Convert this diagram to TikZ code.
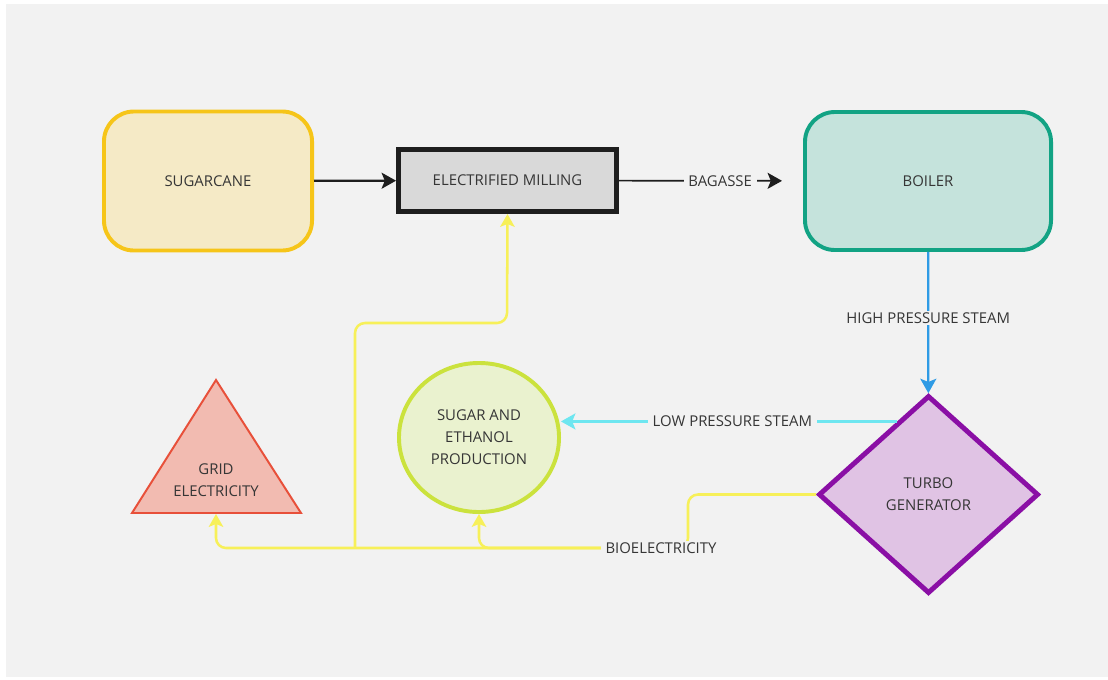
\documentclass[tikz,border=0pt]{standalone}
\usepackage{fontspec}
\setmainfont{Open Sans}
\usetikzlibrary{shapes.geometric,arrows.meta,calc}

\definecolor{bggray}{HTML}{F2F2F2}
\definecolor{txtgray}{HTML}{363636}
\definecolor{canefill}{HTML}{F5EAC6}
\definecolor{canedraw}{HTML}{F6C519}
\definecolor{millfill}{HTML}{D9D9D9}
\definecolor{milldraw}{HTML}{1E1E1E}
\definecolor{boilerfill}{HTML}{C5E3DC}
\definecolor{boilerdraw}{HTML}{12A384}
\definecolor{gridfill}{HTML}{F2BBB1}
\definecolor{griddraw}{HTML}{E8503A}
\definecolor{sugarfill}{HTML}{EAF2CF}
\definecolor{sugardraw}{HTML}{CBE23D}
\definecolor{turbofill}{HTML}{E0C3E4}
\definecolor{turbodraw}{HTML}{8A0FA5}
\definecolor{hpblue}{HTML}{2F9BE5}
\definecolor{lpcyan}{HTML}{6EE6F0}
\definecolor{elecyellow}{HTML}{F7F059}

\begin{document}
\begin{tikzpicture}[x=0.025cm, y=-0.025cm,
                    every node/.style={font=\fontsize{10.6}{15.6}\selectfont, text=txtgray, align=center},
                    box/.style={draw, inner sep=0pt},
                    flowlabel/.style={fill=bggray, inner xsep=3.5pt, inner ysep=1pt},
                    flow/.style={line width=1.6pt, -{Stealth[length=0.36cm, width=0.4cm, inset=0.08cm]}},
                    elec/.style={flow, draw=elecyellow, line width=1.8pt, rounded corners=0.25cm,
                                 -{Stealth[length=0.32cm, width=0.36cm, inset=0.07cm]}}]

                    % page
                    \fill[white] (0,0) rectangle (1108,679);
                    \fill[bggray] (6,4) rectangle (1108,677);
                    \useasboundingbox (0,0) rectangle (1108,679);

                    % top row
                    \node[box, rounded corners=0.75cm, draw=canedraw, fill=canefill, line width=2.8pt,
                          minimum width=5.2cm, minimum height=3.475cm] (cane) at (208,181) {SUGARCANE};
                    \node[box, draw=milldraw, fill=millfill, line width=3.5pt,
                          minimum width=5.45cm, minimum height=1.55cm] (mill) at (507.5,180.5) {ELECTRIFIED MILLING};
                    \node[box, rounded corners=0.75cm, draw=boilerdraw, fill=boilerfill, line width=2.8pt,
                          minimum width=6.15cm, minimum height=3.45cm] (boiler) at (928,181) {BOILER};

                    % bottom row
                    \draw[draw=griddraw, fill=gridfill, line width=1.4pt] (216,380) -- (301,513) -- (132,513) -- cycle;
                    \node (grid) at (216,480) {GRID\\ELECTRICITY};
                    \coordinate (gridbase) at (216,514);
                    \node[box, ellipse, draw=sugardraw, fill=sugarfill, line width=2.8pt,
                          minimum width=4cm, minimum height=3.725cm] (sugar) at (479,437.5) {SUGAR AND\\ETHANOL\\PRODUCTION};
                    \node[box, diamond, draw=turbodraw, fill=turbofill, line width=3.5pt,
                          minimum width=5.5cm, minimum height=4.95cm] (turbo) at (928.5,494.5) {TURBO\\GENERATOR};

                    % steam and cane
                    \draw[flow, draw=milldraw] (cane) -- (mill);
                    \draw[flow, draw=milldraw, line width=1.2pt, shorten >=0.525cm] (mill) -- (boiler);
                    \node[flowlabel] (bagasse) at ($(mill.east)!0.55!(boiler.west)$) {BAGASSE};

                    \draw[flow, draw=hpblue] (boiler) -- (turbo);
                    \node[flowlabel] (hp) at ($(boiler.south)!0.47!(turbo.north)$) {HIGH PRESSURE STEAM};

                    \coordinate (lpstart) at ($(turbo.north)!0.28!(turbo.west)$);
                    \draw[flow, draw=lpcyan] (lpstart) -- (lpstart -| sugar.east);
                    \node[flowlabel] (lp) at ($(lpstart)!0.49!(lpstart -| sugar.east)$) {LOW PRESSURE STEAM};

                    % bioelectricity
                    \coordinate (split) at (688,548);
                    \coordinate (tap) at (355,548);
                    \coordinate (milltap) at (507,323);
                    \draw[elec] (turbo.west) -| (split) -| (gridbase);
                    \draw[elec] (split) -| (sugar.south);
                    \draw[elec] (tap) |- (milltap) -- (mill.south);
                    \node[flowlabel] (bio) at (661,548) {BIOELECTRICITY};
                \end{tikzpicture}
\end{document}
